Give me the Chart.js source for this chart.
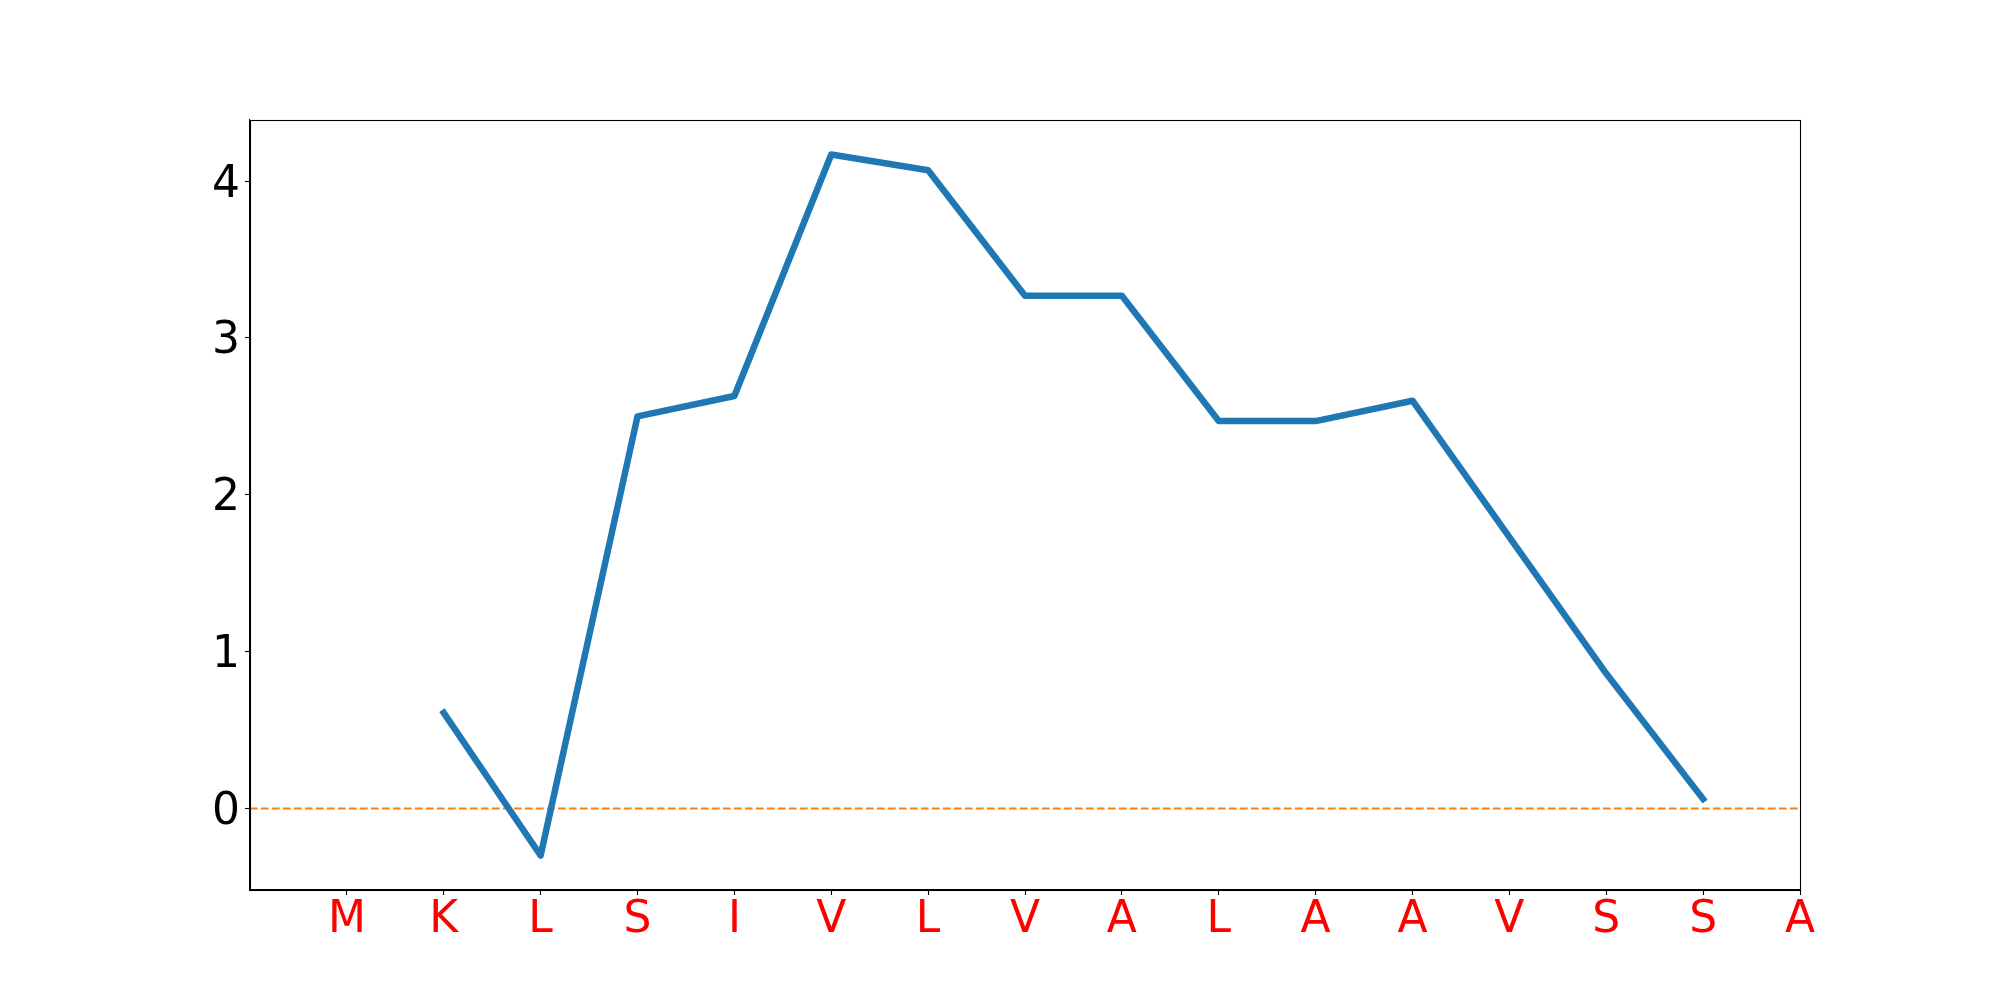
<!DOCTYPE html>
<html>
<head>
<meta charset="utf-8">
<script src="https://cdn.jsdelivr.net/npm/chart.js@4/dist/chart.umd.min.js"></script>
<style>
html,body{margin:0;padding:0;background:#fff;}
#wrap{width:2000px;height:1000px;}
</style>
</head>
<body>
<div id="wrap"><canvas id="c" width="2000" height="1000"></canvas></div>
<script>
const residues = ['M','K','L','S','I','V','L','V','A','L','A','A','V','S','S','A'];
const scores = [null, 0.61, -0.30, 2.50, 2.63, 4.17, 4.07, 3.27, 3.27, 2.47, 2.47, 2.60, 1.73, 0.86, 0.06, null];
const yTickValues = [0, 1, 2, 3, 4];
const xLimits = [-1, 15];
const yLimits = [-0.52, 4.39];
const baselineValue = 0;

const linePoints = [];
scores.forEach((v, i) => { if (v !== null) linePoints.push({x: i, y: v}); });
const baselinePoints = xLimits.map(x => ({x: x, y: baselineValue}));

const frame = {
  id: 'frame',
  afterDatasetsDraw(chart) {
    const a = chart.chartArea, ctx = chart.ctx;
    ctx.save();
    ctx.strokeStyle = '#000';
    ctx.lineWidth = 1.1;
    ctx.strokeRect(Math.round(a.left) + 0.5, Math.round(a.top) + 0.5, Math.round(a.right - a.left), Math.round(a.bottom - a.top));
    ctx.restore();
  }
};

const font = {family: 'DejaVu Sans', size: 44};

new Chart(document.getElementById('c'), {
  type: 'scatter',
  data: {
    datasets: [
      {
        data: linePoints,
        showLine: true,
        borderColor: '#1f77b4',
        borderWidth: 6.5,
        borderCapStyle: 'square',
        borderJoinStyle: 'round',
        pointRadius: 0,
        pointHoverRadius: 0,
        fill: false,
        tension: 0
      },
      {
        data: baselinePoints,
        showLine: true,
        borderColor: '#ff7f0e',
        borderWidth: 2,
        borderDash: [7.7, 3.3],
        pointRadius: 0,
        pointHoverRadius: 0,
        fill: false
      }
    ]
  },
  options: {
    responsive: false,
    animation: false,
    events: [],
    layout: {padding: {top: 120, right: 200, left: 0, bottom: 0}},
    plugins: {legend: {display: false}, tooltip: {enabled: false}},
    scales: {
      x: {
        type: 'linear',
        min: xLimits[0],
        max: xLimits[1],
        afterBuildTicks(scale) {
          scale.ticks = residues.map((r, i) => ({value: i}));
        },
        afterFit(scale) { scale.height = 110; },
        ticks: {
          autoSkip: false,
          maxRotation: 0,
          minRotation: 0,
          color: '#ff0000',
          font: font,
          padding: -1,
          callback: (v) => residues[v] !== undefined ? residues[v] : ''
        },
        grid: {drawOnChartArea: false, drawTicks: true, tickLength: 5, tickColor: '#000', tickWidth: 1.1},
        border: {display: true, color: '#000', width: 1.1}
      },
      y: {
        type: 'linear',
        min: yLimits[0],
        max: yLimits[1],
        afterBuildTicks(scale) {
          scale.ticks = yTickValues.map(v => ({value: v}));
        },
        afterFit(scale) { scale.width = 250; },
        ticks: {
          color: '#000',
          font: font,
          padding: 5,
          labelOffset: 4,
          callback: (v) => String(v)
        },
        grid: {drawOnChartArea: false, drawTicks: true, tickLength: 5, tickColor: '#000', tickWidth: 1.1},
        border: {display: true, color: '#000', width: 1.1}
      }
    }
  },
  plugins: [frame]
});
</script>
</body>
</html>
